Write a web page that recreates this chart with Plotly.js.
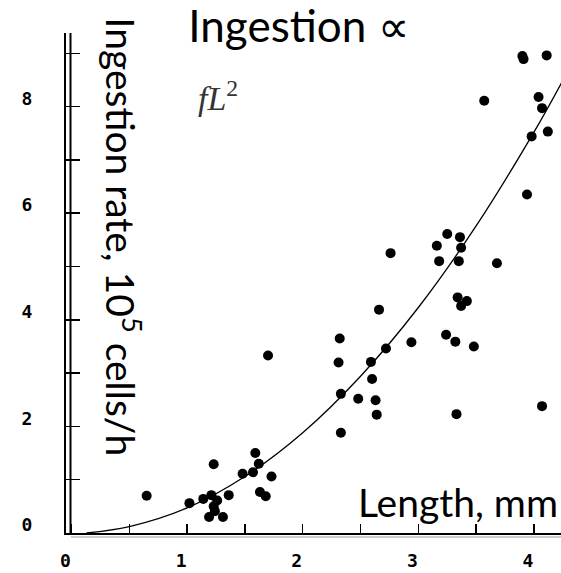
<!DOCTYPE html>
<html>
<head>
<meta charset="utf-8">
<script src="https://cdn.plot.ly/plotly-3.0.1.min.js"></script>
<style>html,body{margin:0;padding:0;background:#fff;}</style>
</head>
<body>
<div id="chart" style="width:561px;height:573px;"></div>
<script>
// Observed data (length in mm, ingestion rate in 10^5 cells/h)
const lengthMM = [
  1.70,1.23,1.59,1.62,1.48,1.57,1.73,0.65,1.02,1.14,1.21,1.26,1.36,1.23,1.24,1.19,1.31,1.63,1.68,
  3.25,3.36,3.16,3.37,2.76,3.18,3.35,3.68,3.34,3.42,3.37,2.66,3.24,2.32,3.32,2.94,3.48,2.72,2.31,2.59,2.60,2.33,2.48,2.63,2.64,3.33,2.33,
  3.90,3.91,4.11,3.57,4.04,4.07,4.12,3.98,3.94,4.07
];
const ingestion = [
  3.33,1.29,1.50,1.30,1.11,1.14,1.06,0.70,0.56,0.64,0.71,0.61,0.71,0.50,0.41,0.30,0.30,0.77,0.69,
  5.61,5.55,5.39,5.35,5.25,5.10,5.10,5.06,4.42,4.35,4.26,4.19,3.72,3.65,3.59,3.58,3.50,3.46,3.20,3.21,2.89,2.61,2.52,2.49,2.22,2.23,1.88,
  8.95,8.89,8.96,8.11,8.18,7.97,7.53,7.44,6.35,2.38
];
// fitted curve (fL^2)
const curveX = [0.13, 0.5, 1.0, 1.5, 2.0, 2.5, 3.0, 3.5, 4.0, 4.24];
const curveY = [0.00, 0.12, 0.47, 1.06, 1.88, 2.94, 4.23, 5.76, 7.52, 8.45];
// ticks
const xTickVals = [0, 1, 2, 3, 4];
const xTickText = ['0', '1', '2', '3', '4'];
const xMinorVals = [0.5, 1.5, 2.5, 3.5];
const yTickVals = [0, 2, 4, 6, 8];
const yTickText = ['0', '2', '4', '6', '8'];
const yMinorVals = [1, 3, 5, 7, 9];

const traces = [
  {x: curveX, y: curveY, type: 'scatter', mode: 'lines',
   line: {color: '#000', width: 1.3, shape: 'spline'}, hoverinfo: 'skip'},
  {x: lengthMM, y: ingestion, type: 'scatter', mode: 'markers',
   marker: {color: '#000', size: 10}}
];

const tickFont = {family: 'DejaVu Sans Mono', size: 18, color: '#000', weight: 'bold'};
const layout = {
  width: 561, height: 573,
  margin: {l: 66, r: 0, t: 33, b: 40, pad: 0},
  paper_bgcolor: '#fff', plot_bgcolor: '#fff',
  showlegend: false,
  title: {text: 'Ingestion ∝', font: {family: 'Lato', size: 44, color: '#000'},
          xref: 'container', x: 0.532, xanchor: 'center',
          yref: 'container', y: 0.953, yanchor: 'middle'},
  xaxis: {range: [-0.0476, 4.234], showgrid: false, zeroline: false,
          showline: true, linecolor: '#000', linewidth: 2,
          ticks: 'inside', ticklen: 9, tickwidth: 1.5, tickcolor: '#000',
          tickmode: 'array', tickvals: xTickVals, ticktext: xTickText,
          minor: {tickmode: 'array', tickvals: xMinorVals, ticks: 'inside', ticklen: 9,
                  tickwidth: 1.5, tickcolor: '#000', showgrid: false},
          tickfont: tickFont, ticklabelstandoff: 10, ticklabelshift: -6},
  yaxis: {range: [0, 9.38], showgrid: false, zeroline: false,
          showline: true, linecolor: '#000', linewidth: 2,
          ticks: 'inside', ticklen: 14, tickwidth: 1.5, tickcolor: '#000',
          tickmode: 'array', tickvals: yTickVals, ticktext: yTickText,
          minor: {tickmode: 'array', tickvals: yMinorVals, ticks: 'inside', ticklen: 14,
                  tickwidth: 1.5, tickcolor: '#000', showgrid: false},
          tickfont: tickFont, ticklabelstandoff: 28, ticklabelshift: -8},
  shapes: [
    {type: 'line', xref: 'paper', yref: 'paper', x0: 0.0091, x1: 0.0091, y0: 0, y1: 1,
     line: {color: '#000', width: 2}},
    {type: 'line', xref: 'paper', yref: 'paper', x0: 0.01, x1: 1, y0: -0.008, y1: -0.008,
     line: {color: '#999', width: 1}}
  ],
  annotations: [
    {text: 'Ingestion rate, 10<sup>5</sup> cells/h', textangle: 90,
     xref: 'paper', yref: 'paper', x: 0.117, y: 0.591, xanchor: 'center', yanchor: 'middle',
     showarrow: false, font: {family: 'Lato', size: 39, color: '#000'}},
    {text: 'Length, mm', xref: 'paper', yref: 'paper', x: 0.792, y: 0.062,
     xanchor: 'center', yanchor: 'middle', showarrow: false,
     font: {family: 'Lato', size: 39, color: '#000'}},
    {text: '<i>fL</i><sup>2</sup>', xref: 'paper', yref: 'paper', x: 0.307, y: 0.875,
     xanchor: 'center', yanchor: 'middle', showarrow: false,
     font: {family: 'Liberation Serif', size: 34, color: '#333'}}
  ]
};

Plotly.newPlot('chart', traces, layout, {displayModeBar: false, staticPlot: true});
</script>
</body>
</html>
